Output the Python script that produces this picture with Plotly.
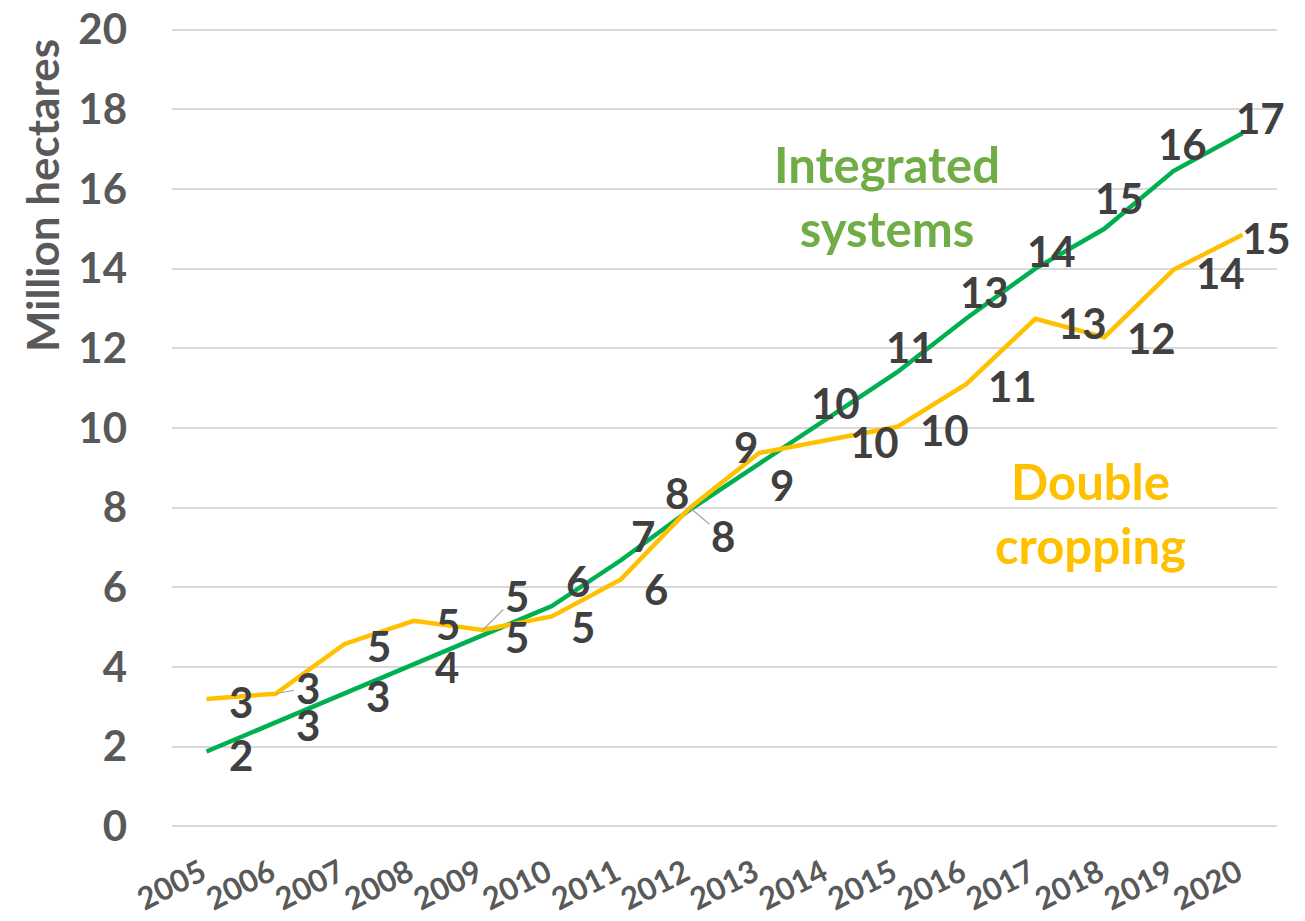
import plotly.graph_objects as go

years = [str(y) for y in range(2005, 2021)]
integrated = [1.88, 2.61, 3.34, 4.07, 4.8, 5.53, 6.68, 7.95, 9.1, 10.25, 11.4, 12.75, 14.0, 15.0, 16.45, 17.4]
double_crop = [3.2, 3.33, 4.58, 5.16, 4.93, 5.27, 6.2, 8.0, 9.37, 9.7, 10.03, 11.1, 12.74, 12.28, 13.97, 14.85]

# label offsets in pixels (dx right, dy down), hand placed like the original
green_offsets = [(34, 3), (32, 3), (33, 3), (33, 3), (34, 2), (26, -25), (22, -24), (-13, -17),
                 (23, 21), (7, -15), (13, -25), (18, -26), (16, -18), (15, -31), (9, -27), (18, -15)]
yellow_offsets = [(34, 3), (32, -6), (34, 2), (34, 3), (34, -34), (31, 11), (35, 10), (33, 28),
                  (-13, -6), (46, 2), (47, 3), (46, 2), (47, 4), (47, 1), (47, 3), (24, 3)]
yellow_leaders = {"2006", "2009", "2012"}

FONT = "Lato"
GREEN = "#00B050"
YELLOW = "#FFC000"
LABEL = "#404040"
AXIS = "#595959"

fig = go.Figure()
fig.add_trace(go.Scatter(x=years, y=integrated, mode="lines", name="Integrated systems",
                         line=dict(color=GREEN, width=4.5)))
fig.add_trace(go.Scatter(x=years, y=double_crop, mode="lines", name="Double cropping",
                         line=dict(color=YELLOW, width=4.5)))

label_font = dict(family=FONT, size=42, color=LABEL, weight="bold")

# category axis: annotations placed by category index (year strings look numeric)
for i, (v, (dx, dy)) in enumerate(zip(integrated, green_offsets)):
    fig.add_annotation(x=i, y=v, text=f"{v:.0f}", showarrow=False, xshift=dx, yshift=-dy,
                       xanchor="center", yanchor="middle", font=label_font)

for i, (yr, v, (dx, dy)) in enumerate(zip(years, double_crop, yellow_offsets)):
    if yr in yellow_leaders:
        fig.add_annotation(x=i, y=v, text=f"{v:.0f}", showarrow=True, ax=dx, ay=dy,
                           arrowhead=0, arrowwidth=1.2, arrowcolor="#A6A6A6", standoff=0,
                           font=label_font)
    else:
        fig.add_annotation(x=i, y=v, text=f"{v:.0f}", showarrow=False, xshift=dx, yshift=-dy,
                           xanchor="center", yanchor="middle", font=label_font)

fig.add_annotation(x=0.647, y=0.79, xref="paper", yref="paper", showarrow=False,
                   xanchor="center", yanchor="middle",
                   text="Integrated<br>systems", align="center",
                   font=dict(family=FONT, size=49, color="#70AD47", weight="bold"))
fig.add_annotation(x=0.831, y=0.394, xref="paper", yref="paper", showarrow=False,
                   xanchor="center", yanchor="middle",
                   text="Double<br>cropping", align="center",
                   font=dict(family=FONT, size=49, color=YELLOW, weight="bold"))
fig.add_annotation(x=-0.1176, y=0.79, xref="paper", yref="paper", showarrow=False,
                   xanchor="center", yanchor="middle",
                   text="Million hectares", textangle=-90,
                   font=dict(family=FONT, size=44, color=AXIS, weight="bold"))

# page body has an 8px margin, so the figure is a little smaller than the window
fig.update_layout(
    width=1297, height=913,
    margin=dict(l=164, r=28, t=20, b=93),
    paper_bgcolor="white", plot_bgcolor="white",
    showlegend=False,
    font=dict(family=FONT, color=AXIS),
    xaxis=dict(type="category", range=[-0.5, 15.5], showgrid=False, showline=False,
               tickangle=-27, tickfont=dict(family=FONT, size=31, color=AXIS, weight="bold"),
               ticks="", ticklabelstandoff=20, ticklabelshift=-5, automargin=False,
               ticklabeloverflow="allow"),
    yaxis=dict(range=[-0.04, 20.04], tickvals=list(range(0, 21, 2)), showgrid=True,
               gridcolor="#D9D9D9", gridwidth=1.5,
               zeroline=False, showline=False, ticks="",
               tickfont=dict(family=FONT, size=42, color=AXIS, weight="bold"),
               ticklabelstandoff=44, automargin=False, ticklabeloverflow="allow"),
)

fig.write_html("out.html")
